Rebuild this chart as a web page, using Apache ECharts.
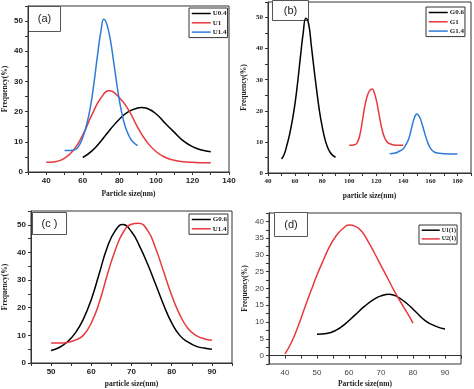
<!DOCTYPE html>
<html><head><meta charset="utf-8">
<script src="https://cdn.jsdelivr.net/npm/echarts@6/dist/echarts.min.js"></script>
<style>html,body{margin:0;padding:0;background:#fff}#c{width:474px;height:389px}</style>
</head><body><div id="c"></div>
<script>
// ---- Panel (a) ----
const aU04 = [[60,4.8],[65,7.0],[70,10.3],[75,14.1],[80,17.5],[85,20.0],[90,21.2],[92,21.4],[95,21.1],[100,19.3],[105,16.2],[110,13.2],[115,10.3],[120,8.4],[125,7.3],[130,6.7]];
const aU1 = [[40,3.2],[45,3.4],[50,4.6],[55,7.3],[60,12.3],[65,19.0],[70,24.6],[74.5,26.9],[80,24.6],[85,20.6],[90,14.8],[95,10.0],[100,6.8],[105,4.9],[110,3.9],[115,3.4],[120,3.2],[125,3.1],[130,3.1]];
const aU14 = [[50,7.1],[53,7.1],[56,7.5],[58,8.8],[60,11.5],[62,15.5],[64,21.0],[66,29.0],[68,38.5],[70,47.0],[71.5,50.6],[73,49.2],[75,44.0],[77,36.0],[79,27.5],[81,20.5],[83,15.5],[85,12.3],[87,10.3],[90,8.7]];
const aXLabels = [40,60,80,100,120,140];
const aYLabels = [0,10,20,30,40,50];
// ---- Panel (b) ----
const bG06 = [[50,4.5],[52,6.0],[54,9.0],[56,12.5],[58,17.0],[60,22.5],[62,29.5],[64,37.5],[66,45.0],[68,49.8],[70,48.0],[72,41.0],[74,33.5],[76,26.5],[78,20.0],[80,15.0],[82,11.0],[84,8.3],[86,6.6],[88,5.6],[90,5.1]];
const bG1 = [[100,8.9],[104,9.1],[106,9.8],[108,12.5],[110,17.5],[112,22.5],[114,25.6],[116,26.9],[117,27.0],[118,26.5],[120,23.5],[122,19.0],[124,14.5],[126,11.5],[128,10.0],[130,9.4],[133,9.0],[136,8.9],[140,8.9]];
const bG14 = [[130,6.2],[134,6.4],[137,7.0],[140,7.8],[142,9.2],[144,11.0],[146,14.3],[148,17.5],[150,19.0],[152,18.0],[154,15.5],[156,12.5],[158,9.8],[160,8.0],[162,7.0],[165,6.4],[170,6.2],[175,6.1],[180,6.1]];
const bXLabels = [40,60,80,100,120,140,160,180];
const bYLabels = [0,10,20,30,40,50];
// ---- Panel (c) ----
const cG06 = [[50,4.5],[52,5.6],[54,7.6],[56,10.8],[58,15.8],[60,23.0],[62,32.5],[64,42.0],[66,48.0],[67.8,50.1],[70,47.5],[72,42.3],[74,35.8],[76,28.5],[78,21.0],[80,14.5],[82,10.0],[84,7.6],[86,6.1],[88,5.4],[90,5.0]];
const cU14 = [[50,7.2],[52,7.2],[54,7.4],[56,8.3],[58,10.0],[60,14.5],[62,22.0],[64,32.0],[66,41.0],[68,47.5],[70,50.2],[71.7,50.6],[74,48.0],[76,41.5],[78,33.0],[80,24.5],[82,17.5],[84,12.6],[86,10.0],[88,8.8],[90,8.2]];
const cXLabels = [50,60,70,80,90];
const cYLabels = [0,10,20,30,40,50];
// ---- Panel (d) ----
const dU11 = [[50,6.4],[53,6.6],[56,7.6],[59,9.6],[62,12.2],[65,14.8],[68,16.9],[70,17.8],[72.5,18.3],[75,17.6],[78,15.6],[81,12.9],[84,10.3],[87,8.8],[90,7.9]];
const dU21 = [[40,0.5],[42,3.9],[44,8.5],[46,13.8],[48,19.0],[50,24.0],[52,28.5],[54,32.6],[56,35.7],[58,37.8],[60,38.9],[62,38.5],[64,37.0],[66,34.0],[68,30.5],[70,26.8],[72,23.2],[74,19.5],[76,16.2],[78,13.0],[80,9.7]];
const dXLabels = [40,50,60,70,80,90];
const dYLabels = [0,5,10,15,20,25,30,35,40];

const BLACK='#000000', RED='#e8393f', BLUE='#2f7bd8';
const serif = 'Liberation Serif';
const sans = 'Liberation Sans';

const grids = [
  {left:28, top:6, width:201, height:166},
  {left:268, top:2, width:205, height:171},
  {left:31, top:211, width:201, height:152},
  {left:269, top:213, width:192, height:151}
].map(g => Object.assign({show:true, borderColor:'#333', borderWidth:1, backgroundColor:'#fff'}, g));

function fmt(list){ return v => (list.indexOf(Math.round(v*100)/100) >= 0 ? String(v) : ''); }

function xAxis(i, min, max, interval, labels, name, nameGap, lab){
  return {type:'value', gridIndex:i, min, max, interval,
    name, nameLocation:'middle', nameGap,
    nameTextStyle:{fontFamily:serif, fontWeight:'bold', fontSize:7.5, color:'#222'},
    axisLine:{show:true, lineStyle:{color:'#333', width:1}},
    axisTick:{show:true, inside:false, length:3, lineStyle:{color:'#333'}},
    splitLine:{show:false},
    axisLabel:Object.assign({formatter:fmt(labels), margin:5, hideOverlap:false}, lab)};
}
function yAxis(i, min, max, interval, labels, nameGap, lab){
  return {type:'value', gridIndex:i, min, max, interval,
    name:'Frequency(%)', nameLocation:'middle', nameGap, nameRotate:90,
    nameTextStyle:{fontFamily:serif, fontWeight:'bold', fontSize:7.5, color:'#222'},
    axisLine:{show:true, lineStyle:{color:'#333', width:1}},
    axisTick:{show:true, inside:false, length:3, lineStyle:{color:'#333'}},
    splitLine:{show:false},
    axisLabel:Object.assign({formatter:fmt(labels), margin:5, hideOverlap:false}, lab)};
}
const labA = {fontFamily:sans, fontWeight:'bold', fontSize:8, color:'#222'};
const labB = {fontFamily:serif, fontWeight:'bold', fontSize:7, color:'#222'};
const labC = {fontFamily:sans, fontWeight:'bold', fontSize:8, color:'#222'};
const labD = {fontFamily:sans, fontWeight:'normal', fontSize:8, color:'#444'};

function line(name, data, color, i){
  return {type:'line', name, data, xAxisIndex:i, yAxisIndex:i, smooth:0.5,
    symbol:'none', showSymbol:false, lineStyle:{color, width:1.5}, itemStyle:{color}, z:3, animation:false};
}

function legend(names, left, top, itemW, fs){
  return {data:names, left, top, orient:'vertical', itemWidth:itemW, itemHeight:8, itemGap:2.3,
    padding:[2,1,2,2], borderColor:'#333', borderWidth:1, backgroundColor:'#fff',
    itemStyle:{opacity:0, borderWidth:0}, lineStyle:{width:1.5},
    formatter: n => n.split('|')[1], selectedMode:false,
    textStyle:{fontFamily:serif, fontWeight:'bold', fontSize:fs, color:'#222', padding:[0,0,0,-3]}};
}

function tagBox(text, x, y, w, h){
  return {type:'group', z:10, children:[
    {type:'rect', shape:{x, y, width:w, height:h}, style:{fill:'#fff', stroke:'#555', lineWidth:1}},
    {type:'text', x:x+w/2, y:y+h/2, style:{text, fontFamily:sans, fontSize:11, fill:'#222', align:'center', verticalAlign:'middle'}}
  ]};
}

const option = {
  backgroundColor:'#fff',
  animation:false,
  grid: grids,
  xAxis: [
    xAxis(0, 30, 140, 10, aXLabels, 'Particle size(nm)', 18, labA),
    xAxis(1, 40, 190, 10, bXLabels, 'particle size(nm)', 19, labB),
    xAxis(2, 45, 95, 5, cXLabels, 'particle size(nm)', 17, labC),
    xAxis(3, 35, 95, 5, dXLabels, 'Particle size(nm)', 16, labD)
  ],
  yAxis: [
    yAxis(0, 0, 55, 5, aYLabels, 19, labA),
    yAxis(1, 0, 55, 5, bYLabels, 20, labB),
    yAxis(2, 0, 55, 5, cYLabels, 22, labC),
    yAxis(3, -2.5, 42.5, 2.5, dYLabels, 20, labD)
  ],
  legend: [
    legend(['a|U0.4','a|U1','a|U1.4'], 189, 8, 19, 7),
    legend(['b|G0.6','b|G1','b|G1.4'], 426, 7, 19, 7),
    legend(['c|G0.6','c|U1.4'], 189, 214, 19, 7),
    legend(['d|U1(1)','d|U2(1)'], 419, 225, 18, 6)
  ],
  series: [
    line('a|U0.4', aU04, BLACK, 0),
    line('a|U1', aU1, RED, 0),
    line('a|U1.4', aU14, BLUE, 0),
    line('b|G0.6', bG06, BLACK, 1),
    line('b|G1', bG1, RED, 1),
    line('b|G1.4', bG14, BLUE, 1),
    line('c|G0.6', cG06, BLACK, 2),
    line('c|U1.4', cU14, RED, 2),
    line('d|U1(1)', dU11, BLACK, 3),
    line('d|U2(1)', dU21, RED, 3)
  ],
  graphic: [
    tagBox('(a)', 28.5, 6.5, 32, 25),
    tagBox('(b)', 272.5, 0.5, 36, 20),
    tagBox('(c )', 32.5, 212.5, 34, 22),
    tagBox('(d)', 274.5, 212.5, 33, 24)
  ]
};
const chart = echarts.init(document.getElementById('c'), null, {renderer:'canvas'});
chart.setOption(option);
</script></body></html>
